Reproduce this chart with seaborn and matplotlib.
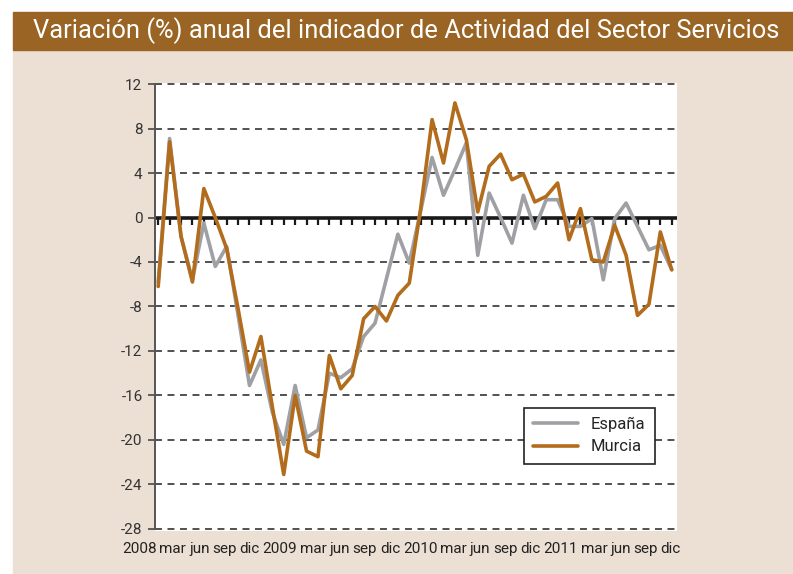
import numpy as np
import pandas as pd
import seaborn as sns
import matplotlib.pyplot as plt
from matplotlib.patches import Rectangle

# Monthly values, Jan 2008 - Oct 2011.
espana = [-5.8, 7.1, -1.7, -5.6, -0.5, -4.4, -2.6, -8.8, -15.1, -12.8,
          -17.5, -20.4, -15.1, -19.8, -19.1, -14.0, -14.4, -13.6, -10.7, -9.5,
          -5.5, -1.5, -4.1, 0.6, 5.4, 2.0, 4.3, 6.7, -3.4, 2.2,
          0.0, -2.3, 2.0, -1.0, 1.6, 1.6, -0.8, -0.8, -0.1, -5.6,
          -0.1, 1.3, -0.8, -2.9, -2.5, -4.7]
murcia = [-6.2, 6.8, -1.7, -5.8, 2.6, 0.0, -2.8, -8.2, -13.9, -10.7,
          -17.0, -23.1, -16.0, -21.0, -21.5, -12.4, -15.4, -14.2, -9.1, -8.0,
          -9.3, -7.0, -5.9, 0.8, 8.8, 4.9, 10.3, 7.0, 0.5, 4.6,
          5.7, 3.4, 3.9, 1.4, 1.9, 3.1, -2.0, 0.8, -3.8, -4.0,
          -0.7, -3.4, -8.8, -7.8, -1.3, -4.7]
x_labels = ['2008', 'mar', 'jun', 'sep', 'dic', '2009', 'mar', 'jun', 'sep', 'dic',
            '2010', 'mar', 'jun', 'sep', 'dic', '2011', 'mar', 'jun', 'sep', 'dic']
y_ticks = list(range(-28, 13, 4))
title = 'Variación (%) anual del indicador de Actividad del Sector Servicios'

n = len(espana)
df = pd.DataFrame({
    'mes': list(range(n)) * 2,
    'valor': espana + murcia,
    'serie': ['España'] * n + ['Murcia'] * n,
})

sns.set_theme(style='white')
plt.rcParams['font.family'] = ['Roboto', 'DejaVu Sans']
plt.rcParams['lines.scale_dashes'] = False

W, H = 793, 574
fig = plt.figure(figsize=(W / 100, H / 100), dpi=100, facecolor='white')
renderer = fig.canvas.get_renderer()

# Beige panel and brown title banner (behind everything).
fig.patches.append(Rectangle((13 / W, 0), 1, 1 - 50 / H, transform=fig.transFigure,
                             color='#ece0d4', zorder=-10))
fig.patches.append(Rectangle((13 / W, 1 - 50 / H), 1, 38 / H, transform=fig.transFigure,
                             color='#9a6524', zorder=-10))
t = fig.text(33 / W, 1 - 31 / H, title, color='white', ha='left', va='center',
             fontsize=18)
t.set_fontsize(18 * 745 / t.get_window_extent(renderer).width)

ax = fig.add_axes([155 / W, 43 / H, 522 / W, 448 / H])
ax.set_facecolor('white')

for y in y_ticks:
    if y != 0:
        ax.axhline(y, color='#333333', lw=1.2, linestyle=(0, (5, 4)), zorder=1)
ax.axhline(0, color='#1a1a1a', lw=2.6, zorder=1.5)
ax.vlines(range(n), -0.65, 0, color='#1a1a1a', lw=1.6, zorder=1.5)

sns.lineplot(data=df, x='mes', y='valor', hue='serie',
             palette={'España': '#9fa0a3', 'Murcia': '#b36c1b'},
             linewidth=2.6, ax=ax, zorder=3)

ax.set_xlim(-0.28, 45.46)
ax.set_ylim(-28.18, 12.09)
ax.set_yticks(y_ticks)
ax.set_yticklabels([str(v) for v in y_ticks])
ax.set_xticks([])
ax.set_xlabel('')
ax.set_ylabel('')
ax.tick_params(axis='y', left=True, length=5, width=1.3, color='#555555',
               direction='out', labelsize=11, labelcolor='#333333', pad=4)
for side in ['top', 'right', 'bottom']:
    ax.spines[side].set_visible(False)
ax.spines['left'].set_color('#555555')
ax.spines['left'].set_linewidth(1.4)
ax.spines['left'].set_bounds(-28, 12)

# Month labels under the plot: one text per label, laid out word after word
# with a single space between them, spanning x = 122..681 px.
size = 11
texts = [fig.text(0, 1 - 549 / H, lab, ha='left', va='center', color='#222222',
                  fontsize=size) for lab in x_labels]
widths = [tx.get_window_extent(renderer).width for tx in texts]
total_w = sum(widths)
gap = (559 - total_w) / (len(texts) - 1)
xpos = 122
for tx, w in zip(texts, widths):
    tx.set_x(xpos / W)
    xpos += w + gap

handles, labels = ax.get_legend_handles_labels()
leg = ax.legend(handles, labels, loc='lower left', bbox_to_anchor=(0.69, 0.132),
                frameon=True, fancybox=False, framealpha=1, edgecolor='#222222',
                fontsize=12, handlelength=2.7, borderpad=0.55, labelspacing=0.45,
                handletextpad=0.8)
leg.get_frame().set_linewidth(1.2)

fig.savefig('out.png', dpi=100, facecolor=fig.get_facecolor())
